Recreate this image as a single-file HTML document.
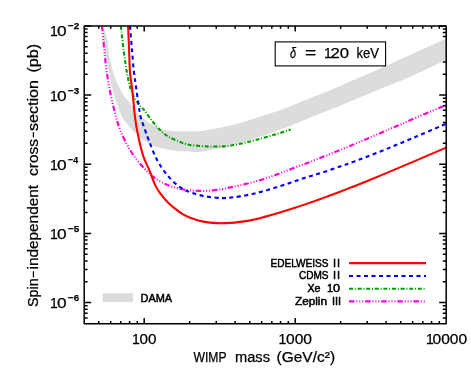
<!DOCTYPE html>
<html><head><meta charset="utf-8"><title>plot</title>
<style>
html,body{margin:0;padding:0;background:#fff;}
body{width:471px;height:377px;overflow:hidden;}
svg{display:block;}
text{font-family:"Liberation Sans",sans-serif;fill:#000;}
</style></head><body>
<div style="will-change:transform;width:471px;height:377px;background:#fff">
<svg width="471" height="377" viewBox="0 0 471 377">
<rect width="471" height="377" fill="#fff"/>
<defs><clipPath id="c"><rect x="84.20" y="25.90" width="362.00" height="297.80"/></clipPath></defs>
<path d="M98.74,323.70 v-2.80 M98.74,25.90 v2.80 M110.70,323.70 v-2.80 M110.70,25.90 v2.80 M120.81,323.70 v-2.80 M120.81,25.90 v2.80 M129.57,323.70 v-2.80 M129.57,25.90 v2.80 M137.29,323.70 v-2.80 M137.29,25.90 v2.80 M144.20,323.70 v-5.60 M144.20,25.90 v5.60 M189.66,323.70 v-2.80 M189.66,25.90 v2.80 M216.25,323.70 v-2.80 M216.25,25.90 v2.80 M235.11,323.70 v-2.80 M235.11,25.90 v2.80 M249.74,323.70 v-2.80 M249.74,25.90 v2.80 M261.70,323.70 v-2.80 M261.70,25.90 v2.80 M271.81,323.70 v-2.80 M271.81,25.90 v2.80 M280.57,323.70 v-2.80 M280.57,25.90 v2.80 M288.29,323.70 v-2.80 M288.29,25.90 v2.80 M295.20,323.70 v-5.60 M295.20,25.90 v5.60 M340.66,323.70 v-2.80 M340.66,25.90 v2.80 M367.25,323.70 v-2.80 M367.25,25.90 v2.80 M386.11,323.70 v-2.80 M386.11,25.90 v2.80 M400.74,323.70 v-2.80 M400.74,25.90 v2.80 M412.70,323.70 v-2.80 M412.70,25.90 v2.80 M422.81,323.70 v-2.80 M422.81,25.90 v2.80 M431.57,323.70 v-2.80 M431.57,25.90 v2.80 M439.29,323.70 v-2.80 M439.29,25.90 v2.80 M84.20,317.95 h3.40 M446.20,317.95 h-3.40 M84.20,313.32 h3.40 M446.20,313.32 h-3.40 M84.20,309.31 h3.40 M446.20,309.31 h-3.40 M84.20,305.77 h3.40 M446.20,305.77 h-3.40 M84.20,302.60 h7.00 M446.20,302.60 h-7.00 M84.20,281.77 h3.40 M446.20,281.77 h-3.40 M84.20,269.58 h3.40 M446.20,269.58 h-3.40 M84.20,260.94 h3.40 M446.20,260.94 h-3.40 M84.20,254.23 h3.40 M446.20,254.23 h-3.40 M84.20,248.75 h3.40 M446.20,248.75 h-3.40 M84.20,244.12 h3.40 M446.20,244.12 h-3.40 M84.20,240.11 h3.40 M446.20,240.11 h-3.40 M84.20,236.57 h3.40 M446.20,236.57 h-3.40 M84.20,233.40 h7.00 M446.20,233.40 h-7.00 M84.20,212.57 h3.40 M446.20,212.57 h-3.40 M84.20,200.38 h3.40 M446.20,200.38 h-3.40 M84.20,191.74 h3.40 M446.20,191.74 h-3.40 M84.20,185.03 h3.40 M446.20,185.03 h-3.40 M84.20,179.55 h3.40 M446.20,179.55 h-3.40 M84.20,174.92 h3.40 M446.20,174.92 h-3.40 M84.20,170.91 h3.40 M446.20,170.91 h-3.40 M84.20,167.37 h3.40 M446.20,167.37 h-3.40 M84.20,164.20 h7.00 M446.20,164.20 h-7.00 M84.20,143.37 h3.40 M446.20,143.37 h-3.40 M84.20,131.18 h3.40 M446.20,131.18 h-3.40 M84.20,122.54 h3.40 M446.20,122.54 h-3.40 M84.20,115.83 h3.40 M446.20,115.83 h-3.40 M84.20,110.35 h3.40 M446.20,110.35 h-3.40 M84.20,105.72 h3.40 M446.20,105.72 h-3.40 M84.20,101.71 h3.40 M446.20,101.71 h-3.40 M84.20,98.17 h3.40 M446.20,98.17 h-3.40 M84.20,95.00 h7.00 M446.20,95.00 h-7.00 M84.20,74.17 h3.40 M446.20,74.17 h-3.40 M84.20,61.98 h3.40 M446.20,61.98 h-3.40 M84.20,53.34 h3.40 M446.20,53.34 h-3.40 M84.20,46.63 h3.40 M446.20,46.63 h-3.40 M84.20,41.15 h3.40 M446.20,41.15 h-3.40 M84.20,36.52 h3.40 M446.20,36.52 h-3.40 M84.20,32.51 h3.40 M446.20,32.51 h-3.40 M84.20,28.97 h3.40 M446.20,28.97 h-3.40 M84.20,25.90 h7.00 M446.20,25.90 h-7.00" fill="none" stroke="#000" stroke-width="1.5"/>
<g clip-path="url(#c)" fill="none" stroke-width="2.1" stroke-linejoin="round">
<path d="M103.20,25.90 C103.58,27.08 104.77,30.32 105.50,33.00 C106.23,35.68 107.03,38.72 107.60,42.00 C108.17,45.28 108.20,48.45 108.90,52.70 C109.60,56.95 110.60,62.90 111.80,67.50 C113.00,72.10 114.47,76.23 116.10,80.30 C117.73,84.37 119.67,88.55 121.60,91.90 C123.53,95.25 125.98,98.10 127.70,100.40 C129.42,102.70 130.13,103.33 131.90,105.70 C133.67,108.07 135.28,111.63 138.30,114.60 C141.32,117.57 146.42,121.20 150.00,123.50 C153.58,125.80 156.68,127.23 159.80,128.40 C162.92,129.57 165.10,129.98 168.70,130.50 C172.30,131.02 177.15,131.35 181.40,131.50 C185.65,131.65 190.93,131.47 194.20,131.40 C197.47,131.33 198.07,131.45 201.00,131.10 C203.93,130.75 208.47,129.92 211.80,129.30 C215.13,128.68 217.97,128.02 221.00,127.40 C224.03,126.78 225.90,126.63 230.00,125.60 C234.10,124.57 240.45,122.77 245.60,121.20 C250.75,119.63 255.17,118.03 260.90,116.20 C266.63,114.37 274.98,111.92 280.00,110.20 C285.02,108.48 286.00,107.90 291.00,105.90 C296.00,103.90 303.50,100.80 310.00,98.20 C316.50,95.60 322.50,93.42 330.00,90.30 C337.50,87.18 346.67,83.10 355.00,79.50 C363.33,75.90 372.50,72.03 380.00,68.70 C387.50,65.37 392.83,62.78 400.00,59.50 C407.17,56.22 415.30,52.47 423.00,49.00 C430.70,45.53 442.33,40.42 446.20,38.70 L446.20,59.80 C442.57,61.55 431.77,66.90 424.40,70.30 C417.03,73.70 409.40,77.10 402.00,80.20 C394.60,83.30 386.67,86.17 380.00,88.90 C373.33,91.63 368.03,94.05 362.00,96.60 C355.97,99.15 349.13,102.00 343.80,104.20 C338.47,106.40 335.63,107.53 330.00,109.80 C324.37,112.07 316.50,115.17 310.00,117.80 C303.50,120.43 296.00,123.60 291.00,125.60 C286.00,127.60 285.02,128.00 280.00,129.80 C274.98,131.60 266.63,134.50 260.90,136.40 C255.17,138.30 250.70,139.70 245.60,141.20 C240.50,142.70 234.15,144.32 230.30,145.40 C226.45,146.48 225.58,146.98 222.50,147.70 C219.42,148.42 215.38,149.02 211.80,149.70 C208.22,150.38 204.37,151.47 201.00,151.80 C197.63,152.13 195.10,151.78 191.60,151.70 C188.10,151.62 183.67,151.63 180.00,151.30 C176.33,150.97 172.40,150.18 169.60,149.70 C166.80,149.22 165.33,148.87 163.20,148.40 C161.07,147.93 158.92,147.57 156.80,146.90 C154.68,146.23 152.62,145.45 150.50,144.40 C148.38,143.35 146.23,142.08 144.10,140.60 C141.97,139.12 139.82,137.42 137.70,135.50 C135.58,133.58 133.52,131.55 131.40,129.10 C129.28,126.65 126.43,122.65 125.00,120.80 C123.57,118.95 123.92,120.17 122.80,118.00 C121.68,115.83 119.75,111.62 118.30,107.80 C116.85,103.98 115.33,99.33 114.10,95.10 C112.87,90.87 111.82,86.58 110.90,82.40 C109.98,78.22 109.50,74.57 108.60,70.00 C107.70,65.43 106.53,62.35 105.50,55.00 C104.47,47.65 102.92,30.75 102.40,25.90 Z" fill="#dcdcdc" stroke="none"/>
<path d="M120.90,25.90 C121.33,29.83 122.52,41.85 123.50,49.50 C124.48,57.15 125.72,65.62 126.80,71.80 C127.88,77.98 128.72,82.23 130.00,86.60 C131.28,90.97 132.68,94.62 134.50,98.00 C136.32,101.38 139.30,104.90 140.90,106.90 C142.50,108.90 142.50,108.00 144.10,110.00 C145.70,112.00 148.38,116.13 150.50,118.90 C152.62,121.67 154.68,124.27 156.80,126.60 C158.92,128.93 161.07,131.10 163.20,132.90 C165.33,134.70 167.05,136.02 169.60,137.40 C172.15,138.78 175.95,140.13 178.50,141.20 C181.05,142.27 182.72,143.13 184.90,143.80 C187.08,144.47 187.93,144.77 191.60,145.20 C195.27,145.63 201.83,146.20 206.90,146.40 C211.97,146.60 218.10,146.52 222.00,146.40 C225.90,146.28 226.37,146.33 230.30,145.70 C234.23,145.07 240.50,143.80 245.60,142.60 C250.70,141.40 255.82,139.90 260.90,138.50 C265.98,137.10 271.13,135.68 276.10,134.20 C281.07,132.72 288.27,130.37 290.70,129.60" stroke="#00a000" stroke-dasharray="4 1.8 1 1.8"/>
<path d="M102.00,25.90 C102.37,29.75 103.43,41.48 104.20,49.00 C104.97,56.52 105.58,63.68 106.60,71.00 C107.62,78.32 108.90,85.90 110.30,92.90 C111.70,99.90 113.33,106.75 115.00,113.00 C116.67,119.25 117.72,124.10 120.30,130.40 C122.88,136.70 126.68,144.65 130.50,150.80 C134.32,156.95 138.95,162.63 143.20,167.30 C147.45,171.97 151.33,175.62 156.00,178.80 C160.67,181.98 165.68,184.48 171.20,186.40 C176.72,188.32 183.15,189.57 189.10,190.30 C195.05,191.03 201.42,190.98 206.90,190.80 C212.38,190.62 218.10,189.77 222.00,189.20 C225.90,188.63 227.30,188.05 230.30,187.40 C233.30,186.75 236.27,186.15 240.00,185.30 C243.73,184.45 248.45,183.43 252.70,182.30 C256.95,181.17 261.25,179.88 265.50,178.50 C269.75,177.12 273.95,175.58 278.20,174.00 C282.45,172.42 286.75,170.62 291.00,169.00 C295.25,167.38 299.67,165.81 303.70,164.30 C307.73,162.79 309.15,162.30 315.20,159.92 C321.25,157.54 331.62,153.46 340.00,150.04 C348.38,146.62 357.00,143.00 365.50,139.41 C374.00,135.82 382.52,132.14 391.00,128.50 C399.48,124.86 407.20,121.49 416.40,117.57 C425.60,113.64 441.23,107.05 446.20,104.95" stroke="#ff00d8" stroke-dasharray="5.5 1.9 1 1.9 1 1.9 1 1.9"/>
<path d="M130.00,25.90 C130.30,29.58 131.15,40.35 131.80,48.00 C132.45,55.65 133.20,65.37 133.90,71.80 C134.60,78.23 135.20,80.95 136.00,86.60 C136.80,92.25 137.90,100.50 138.70,105.70 C139.50,110.90 139.92,114.25 140.80,117.80 C141.68,121.35 142.65,123.20 144.00,127.00 C145.35,130.80 146.85,135.37 148.90,140.60 C150.95,145.83 153.43,152.88 156.30,158.40 C159.17,163.92 162.33,169.03 166.10,173.70 C169.87,178.37 174.65,183.22 178.90,186.40 C183.15,189.58 186.93,191.10 191.60,192.80 C196.27,194.50 201.83,195.72 206.90,196.60 C211.97,197.48 218.10,197.93 222.00,198.10 C225.90,198.27 227.30,197.88 230.30,197.60 C233.30,197.32 236.27,197.02 240.00,196.40 C243.73,195.78 248.45,194.87 252.70,193.90 C256.95,192.93 261.25,191.78 265.50,190.60 C269.75,189.42 273.95,188.13 278.20,186.80 C282.45,185.47 286.75,184.04 291.00,182.60 C295.25,181.16 299.47,179.50 303.70,178.13 C307.93,176.76 312.15,175.67 316.40,174.36 C320.65,173.05 324.95,171.67 329.20,170.26 C333.45,168.85 338.08,167.25 341.90,165.92 C345.72,164.59 348.17,163.70 352.10,162.26 C356.03,160.81 359.02,159.77 365.50,157.25 C371.98,154.73 382.52,150.61 391.00,147.16 C399.48,143.71 407.92,140.16 416.40,136.56 C424.88,132.97 436.93,127.73 441.90,125.59 C446.87,123.45 445.48,124.03 446.20,123.72" stroke="#0000ff" stroke-dasharray="4 3.5"/>
<path d="M128.10,25.90 C128.25,29.58 128.68,40.35 129.00,48.00 C129.32,55.65 129.40,64.32 130.00,71.80 C130.60,79.28 131.75,85.23 132.60,92.90 C133.45,100.57 134.18,110.70 135.10,117.80 C136.02,124.90 136.75,129.15 138.10,135.50 C139.45,141.85 141.25,149.93 143.20,155.90 C145.15,161.87 147.77,166.35 149.80,171.30 C151.83,176.25 153.58,181.83 155.40,185.60 C157.22,189.37 158.85,191.35 160.70,193.90 C162.55,196.45 164.27,198.57 166.50,200.90 C168.73,203.23 171.35,205.67 174.10,207.90 C176.85,210.13 179.82,212.48 183.00,214.30 C186.18,216.12 189.80,217.58 193.20,218.80 C196.60,220.02 199.45,220.88 203.40,221.60 C207.35,222.32 212.47,222.88 216.90,223.10 C221.33,223.32 226.15,223.10 230.00,222.90 C233.85,222.70 236.22,222.40 240.00,221.90 C243.78,221.40 248.45,220.78 252.70,219.90 C256.95,219.02 261.25,217.78 265.50,216.63 C269.75,215.48 273.95,214.26 278.20,213.00 C282.45,211.74 286.75,210.41 291.00,209.05 C295.25,207.70 299.47,206.30 303.70,204.87 C307.93,203.44 312.15,201.97 316.40,200.46 C320.65,198.95 324.95,197.39 329.20,195.81 C333.45,194.23 338.08,192.47 341.90,191.00 C345.72,189.53 348.17,188.58 352.10,187.02 C356.03,185.46 359.02,184.31 365.50,181.66 C371.98,179.01 382.52,174.67 391.00,171.12 C399.48,167.57 407.20,164.27 416.40,160.35 C425.60,156.43 441.23,149.74 446.20,147.62" stroke="#ff0000"/>
</g>
<rect x="84.20" y="25.90" width="362.00" height="297.80" fill="none" stroke="#000" stroke-width="1.5" stroke-linejoin="round"/>
<rect x="275.2" y="41.9" width="110.4" height="24" fill="#fff" stroke="#000" stroke-width="1.1"/>
<text x="50.00" y="35.50" font-size="14" stroke="#000" stroke-width="0.25">1</text>
<text x="57.00" y="35.50" font-size="14" textLength="9.61" lengthAdjust="spacingAndGlyphs" stroke="#000" stroke-width="0.25">0</text>
<text x="68.00" y="28.60" font-size="9.6" textLength="11.17" lengthAdjust="spacingAndGlyphs" font-weight="bold" stroke="#000" stroke-width="0.25">&#8722;2</text>
<text x="50.00" y="100.60" font-size="14" stroke="#000" stroke-width="0.25">1</text>
<text x="57.00" y="100.60" font-size="14" textLength="9.61" lengthAdjust="spacingAndGlyphs" stroke="#000" stroke-width="0.25">0</text>
<text x="68.00" y="93.70" font-size="9.6" textLength="11.06" lengthAdjust="spacingAndGlyphs" font-weight="bold" stroke="#000" stroke-width="0.25">&#8722;3</text>
<text x="50.00" y="169.80" font-size="14" stroke="#000" stroke-width="0.25">1</text>
<text x="57.00" y="169.80" font-size="14" textLength="9.61" lengthAdjust="spacingAndGlyphs" stroke="#000" stroke-width="0.25">0</text>
<text x="68.00" y="162.90" font-size="9.6" textLength="10.05" lengthAdjust="spacingAndGlyphs" font-weight="bold" stroke="#000" stroke-width="0.25">&#8722;4</text>
<text x="50.00" y="239.00" font-size="14" stroke="#000" stroke-width="0.25">1</text>
<text x="57.00" y="239.00" font-size="14" textLength="9.61" lengthAdjust="spacingAndGlyphs" stroke="#000" stroke-width="0.25">0</text>
<text x="68.00" y="232.10" font-size="9.6" textLength="11.17" lengthAdjust="spacingAndGlyphs" font-weight="bold" stroke="#000" stroke-width="0.25">&#8722;5</text>
<text x="50.00" y="308.20" font-size="14" stroke="#000" stroke-width="0.25">1</text>
<text x="57.00" y="308.20" font-size="14" textLength="9.61" lengthAdjust="spacingAndGlyphs" stroke="#000" stroke-width="0.25">0</text>
<text x="68.00" y="301.30" font-size="9.6" textLength="11.06" lengthAdjust="spacingAndGlyphs" font-weight="bold" stroke="#000" stroke-width="0.25">&#8722;6</text>
<text x="132.00" y="344.10" font-size="14" stroke="#000" stroke-width="0.25">1</text>
<text x="139.50" y="344.10" font-size="14" textLength="16.87" lengthAdjust="spacingAndGlyphs" stroke="#000" stroke-width="0.25">00</text>
<text x="278.50" y="344.10" font-size="14" stroke="#000" stroke-width="0.25">1</text>
<text x="286.00" y="344.10" font-size="14" textLength="26.02" lengthAdjust="spacingAndGlyphs" stroke="#000" stroke-width="0.25">000</text>
<text x="426.00" y="344.10" font-size="14" stroke="#000" stroke-width="0.25">1</text>
<text x="432.50" y="344.10" font-size="14" textLength="34.56" lengthAdjust="spacingAndGlyphs" stroke="#000" stroke-width="0.25">0000</text>
<text x="193.50" y="361.70" font-size="14" textLength="33.03" lengthAdjust="spacingAndGlyphs" stroke="#000" stroke-width="0.25">WIMP</text>
<text x="235.00" y="361.70" font-size="14" textLength="35.03" lengthAdjust="spacingAndGlyphs" stroke="#000" stroke-width="0.25">mass</text>
<text x="276.50" y="361.70" font-size="14" textLength="58.55" lengthAdjust="spacingAndGlyphs" stroke="#000" stroke-width="0.25">(GeV/c&#178;)</text>
<text transform="translate(38.30,307.00) rotate(-90)" font-size="14" textLength="28.64" lengthAdjust="spacingAndGlyphs" stroke="#000" stroke-width="0.25">Spin</text>
<text transform="translate(38.30,278.00) rotate(-90)" font-size="14" textLength="7.10" lengthAdjust="spacingAndGlyphs" stroke="#000" stroke-width="0.25">&#8722;</text>
<text transform="translate(38.30,269.50) rotate(-90)" font-size="14" textLength="84.51" lengthAdjust="spacingAndGlyphs" stroke="#000" stroke-width="0.25">independent</text>
<text transform="translate(38.30,176.00) rotate(-90)" font-size="14" textLength="37.08" lengthAdjust="spacingAndGlyphs" stroke="#000" stroke-width="0.25">cross</text>
<text transform="translate(38.30,138.00) rotate(-90)" font-size="14" textLength="6.17" lengthAdjust="spacingAndGlyphs" stroke="#000" stroke-width="0.25">&#8722;</text>
<text transform="translate(38.30,131.00) rotate(-90)" font-size="14" textLength="51.03" lengthAdjust="spacingAndGlyphs" stroke="#000" stroke-width="0.25">section</text>
<text transform="translate(38.30,72.50) rotate(-90)" font-size="14" textLength="28.57" lengthAdjust="spacingAndGlyphs" stroke="#000" stroke-width="0.25">(pb)</text>
<text x="290.00" y="58.40" font-size="14" textLength="6.08" lengthAdjust="spacingAndGlyphs" stroke="#000" stroke-width="0.25" font-style="italic">&#948;</text>
<text x="305.00" y="58.40" font-size="14" textLength="11.19" lengthAdjust="spacingAndGlyphs" stroke="#000" stroke-width="0.25">=</text>
<text x="324.00" y="58.40" font-size="14" stroke="#000" stroke-width="0.25">1</text>
<text x="330.50" y="58.40" font-size="14" textLength="18.62" lengthAdjust="spacingAndGlyphs" stroke="#000" stroke-width="0.25">20</text>
<text x="356.50" y="58.40" font-size="14" textLength="22.55" lengthAdjust="spacingAndGlyphs" stroke="#000" stroke-width="0.25">keV</text>
<text x="270.50" y="266.90" font-size="11" textLength="58.03" lengthAdjust="spacingAndGlyphs" stroke="#000" stroke-width="0.5">EDELWEISS</text>
<text x="333.00" y="266.90" font-size="11" textLength="7.00" lengthAdjust="spacing" stroke="#000" stroke-width="0.5">II</text>
<text x="299.00" y="279.40" font-size="11" textLength="29.53" lengthAdjust="spacingAndGlyphs" stroke="#000" stroke-width="0.5">CDMS</text>
<text x="333.00" y="279.40" font-size="11" textLength="7.00" lengthAdjust="spacing" stroke="#000" stroke-width="0.5">II</text>
<text x="307.50" y="292.10" font-size="11" textLength="13.05" lengthAdjust="spacingAndGlyphs" stroke="#000" stroke-width="0.5">Xe</text>
<text x="327.00" y="292.10" font-size="11" stroke="#000" stroke-width="0.5">1</text>
<text x="333.00" y="292.10" font-size="11" textLength="7.10" lengthAdjust="spacingAndGlyphs" stroke="#000" stroke-width="0.5">0</text>
<text x="295.00" y="304.90" font-size="11" textLength="32.01" lengthAdjust="spacingAndGlyphs" stroke="#000" stroke-width="0.5">Zeplin</text>
<text x="332.00" y="304.90" font-size="11" textLength="9.00" lengthAdjust="spacing" stroke="#000" stroke-width="0.5">III</text>
<text x="140.50" y="302.20" font-size="11" textLength="31.53" lengthAdjust="spacingAndGlyphs" stroke="#000" stroke-width="0.5">DAMA</text>
<g fill="none" stroke-width="2.1">
<path d="M349,263.1 H426" stroke="#ff0000"/>
<path d="M349,276 H426" stroke="#0000ff" stroke-dasharray="4 3.5"/>
<path d="M349,288.7 H426" stroke="#00a000" stroke-dasharray="4 1.8 1 1.8"/>
<path d="M349,301.4 H426" stroke="#ff00d8" stroke-dasharray="5.5 1.9 1 1.9 1 1.9 1 1.9"/>
</g>
<rect x="102.7" y="293.2" width="30.4" height="8.9" fill="#dcdcdc"/>
</svg></div></body></html>
